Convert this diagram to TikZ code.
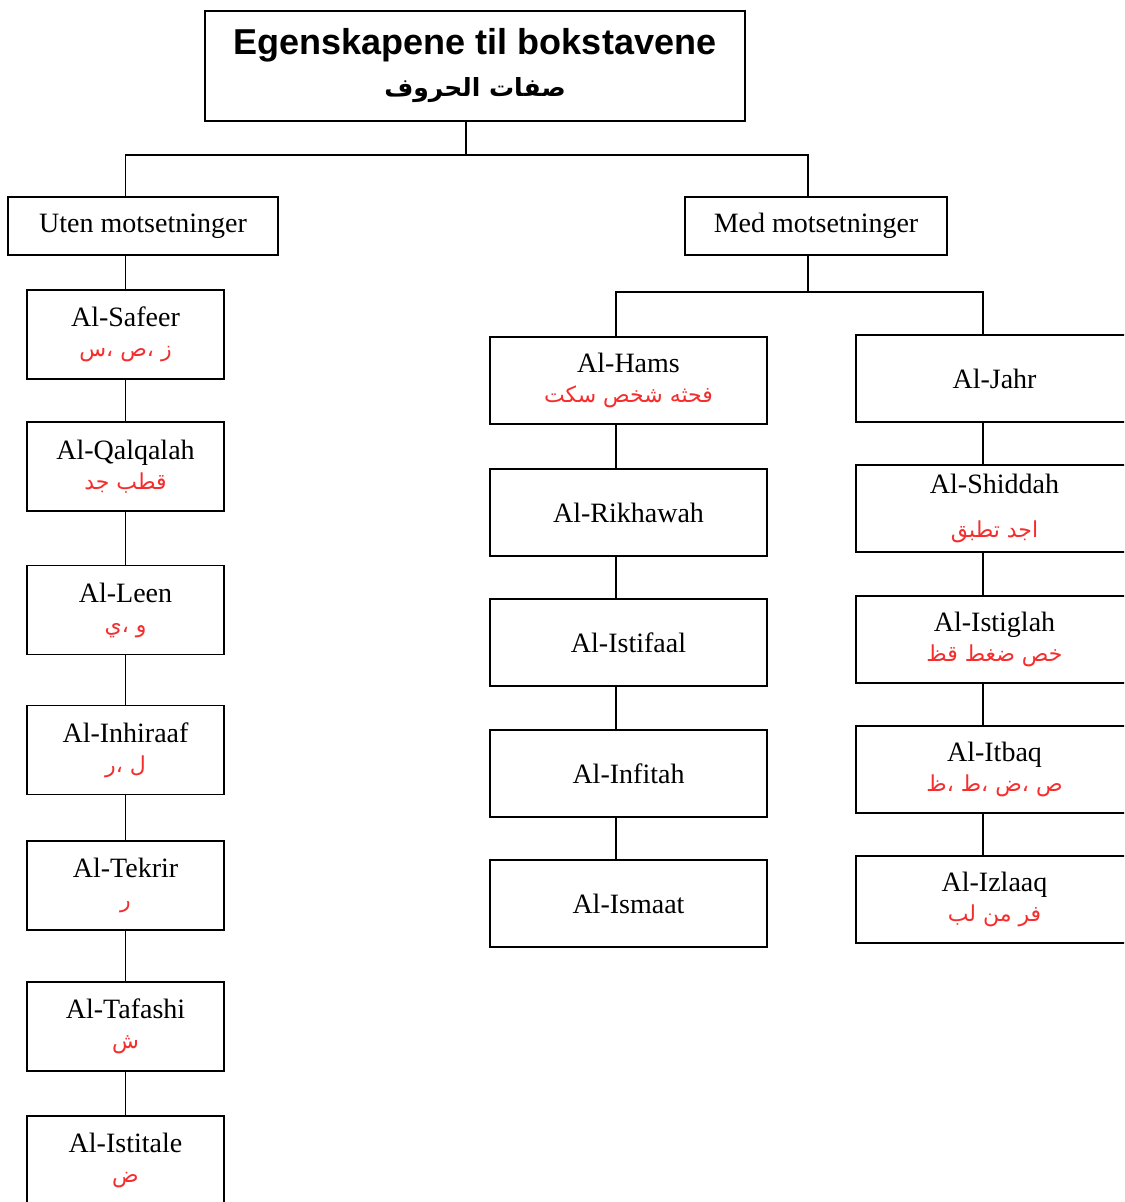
\documentclass[tikz,border=0pt]{standalone}
\usepackage{fontspec}
\setmainfont{Liberation Serif}
\newfontfamily\titlefont{Liberation Sans}
\newfontfamily\arabicfont[Script=Arabic]{DejaVu Sans}
\TeXXeTstate=1
\usetikzlibrary{positioning}
\definecolor{letterred}{RGB}{245,45,45}

\newcommand{\redar}{\color{letterred}\fontsize{11}{13}\selectfont\arabicfont}
\newcommand{\sifa}[2]{#1\\[-1pt]{\redar #2}}

\tikzset{
  box/.style={draw, rectangle, inner sep=0pt, align=center,
    font=\fontsize{14}{16}\selectfont},
  leftbox/.style={box, minimum width=98.5pt, minimum height=44.5pt},
  midbox/.style={box, minimum width=138.5pt, minimum height=43.5pt},
  groupbox/.style={box, minimum height=29pt},
}

\begin{document}
\begin{tikzpicture}[x=0.5pt, y=-0.5pt, line width=0.8pt]
    \clip (0,0) rectangle (1124,1202);

    % title
    \node[box, minimum width=270pt, minimum height=55pt] (title) at (475,66)
      {{\titlefont\bfseries\fontsize{18}{22}\selectfont Egenskapene til bokstavene}\\[5pt]
       {\arabicfont\bfseries\fontsize{12.5}{15}\selectfont\beginR صفات الحروف\endR}};

    % the two groups
    \node[groupbox, minimum width=135pt] (uten) at (143,226) {Uten motsetninger};
    \node[groupbox, minimum width=131pt] (med) at (816,226) {Med motsetninger};

    % --- left column ---
    \node[leftbox] (safeer)    at (125.5,334.5)  {\sifa{Al-Safeer}{\beginR ز ،ص ،س\endR}};
    \node[leftbox] (qalqalah)  at (125.5,466.5)  {\sifa{Al-Qalqalah}{\beginR قطب جد\endR}};
    \node[leftbox] (leen)      at (125.5,610)    {\sifa{Al-Leen}{\beginR و ،ي\endR}};
    \node[leftbox] (inhiraaf)  at (125.5,750)    {\sifa{Al-Inhiraaf}{\beginR ل ،ر\endR}};
    \node[leftbox] (tekrir)    at (125.5,885.5)  {\sifa{Al-Tekrir}{\beginR ر\endR}};
    \node[leftbox] (tafashi)   at (125.5,1026.5) {\sifa{Al-Tafashi}{\beginR ش\endR}};
    \node[leftbox] (istitale)  at (125.5,1160.5) {\sifa{Al-Istitale}{\beginR ض\endR}};

    % --- middle column ---
    \node[midbox] (hams)      at (628.5,380.5) {\sifa{Al-Hams}{\beginR فحثه شخص سكت\endR}};
    \node[midbox] (rikhawah)  at (628.5,512.5) {Al-Rikhawah};
    \node[midbox] (istifaal)  at (628.5,642.5) {Al-Istifaal};
    \node[midbox] (infitah)   at (628.5,773.5) {Al-Infitah};
    \node[midbox] (ismaat)    at (628.5,903.5) {Al-Ismaat};

    % --- right column ---
    \node[midbox] (jahr)      at (994.5,378.5) {Al-Jahr};
    \node[midbox] (shiddah)   at (994.5,508.5) {Al-Shiddah\\[6pt]{\redar\beginR اجد تطبق\endR}};
    \node[midbox] (istiglah)  at (994.5,639.5) {\sifa{Al-Istiglah}{\beginR خص ضغط قظ\endR}};
    \node[midbox] (itbaq)     at (994.5,769.5) {\sifa{Al-Itbaq}{\beginR ص ،ض ،ط ،ظ\endR}};
    \node[midbox] (izlaaq)    at (994.5,899.5) {\sifa{Al-Izlaaq}{\beginR فر من لب\endR}};

    % forks
    \coordinate (top) at (466,155);
    \coordinate (medfork) at (808,292);
    \coordinate (midline) at (616,0);
    \coordinate (rightline) at (983,0);

    \draw (title.south -| top) -- (top);
    \draw (uten.north -| safeer) |- (top) -| (med.north -| medfork);
    \draw (med.south -| medfork) -- (medfork);
    \draw (hams.north -| midline) |- (medfork) -| (jahr.north -| rightline);

    \draw (uten.south -| safeer) -- (safeer);
    \foreach \a/\b in {safeer/qalqalah, qalqalah/leen, leen/inhiraaf,
                       inhiraaf/tekrir, tekrir/tafashi, tafashi/istitale}
        \draw (\a) -- (\b);
    \foreach \a/\b in {hams/rikhawah, rikhawah/istifaal, istifaal/infitah, infitah/ismaat}
        \draw (\a.south -| midline) -- (\b.north -| midline);
    \foreach \a/\b in {jahr/shiddah, shiddah/istiglah, istiglah/itbaq, itbaq/izlaaq}
        \draw (\a.south -| rightline) -- (\b.north -| rightline);

\end{tikzpicture}
\end{document}
